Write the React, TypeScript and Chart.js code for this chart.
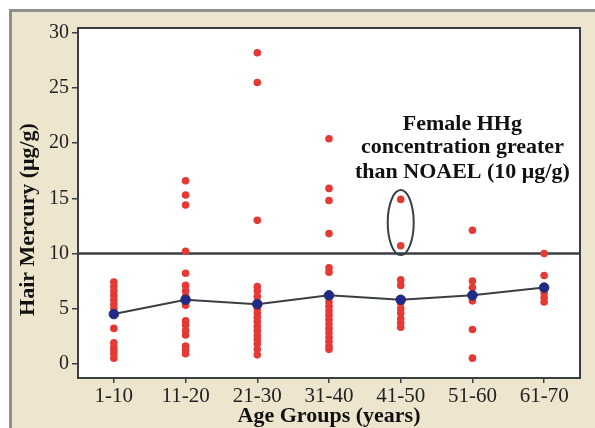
import React, { useEffect, useRef } from "react";
import { Chart, registerables } from "chart.js";

Chart.register(...registerables);

const categories = ["1-10", "11-20", "21-30", "31-40", "41-50", "51-60", "61-70"];

const group1to10 = [7.4, 7.0, 6.6, 6.2, 5.8, 5.4, 5.0, 3.2, 1.9, 1.5, 1.2, 0.9, 0.5];
const group11to20 = [16.6, 15.3, 14.4, 10.2, 8.2, 7.1, 6.6, 6.1, 5.6, 5.3, 3.9, 3.5, 3.0, 2.6, 1.6, 1.2, 0.9];
const group21to30 = [28.2, 25.5, 13.0, 7.0, 6.6, 6.1, 5.6, 5.0, 4.6, 4.2, 3.8, 3.4, 3.0, 2.6, 2.2, 1.8, 1.3, 0.8];
const group31to40 = [20.4, 15.9, 14.8, 11.8, 8.7, 8.3, 6.0, 5.6, 5.2, 4.8, 4.4, 4.0, 3.6, 3.2, 2.8, 2.4, 2.0, 1.6, 1.3];
const group41to50 = [14.9, 10.7, 7.6, 7.1, 5.5, 5.0, 4.6, 4.1, 3.7, 3.3];
const group51to60 = [12.1, 7.5, 6.9, 5.7, 3.1, 0.5];
const group61to70 = [10.0, 8.0, 6.4, 6.0, 5.6];

const groupMeans = [4.5, 5.8, 5.4, 6.2, 5.8, 6.2, 6.9];

const yTickValues = [0, 5, 10, 15, 20, 25, 30];
const noaelLimit = 10;

const annotationLines = ["Female HHg", "concentration greater", "than NOAEL (10 \u03bcg/g)"];
const annotationYValues = [21.7, 19.6, 17.4];
// ellipse around the 41-50 group's points above the NOAEL
const ellipseCategory = 4;
const ellipseYRange = [9.85, 15.75];

const xTitle = "Age Groups (years)";
const yTitle = "Hair Mercury (\u03bcg/g)";

const SERIF = "'Liberation Serif', 'Times New Roman', serif";

const allGroups = [group1to10, group11to20, group21to30, group31to40, group41to50, group51to60, group61to70];

const overlayPlugin = {
  id: "overlay",
  beforeDraw(chart: any) {
    const { ctx, chartArea } = chart;
    ctx.save();
    ctx.fillStyle = "#ffffff";
    ctx.fillRect(chartArea.left, chartArea.top, chartArea.right - chartArea.left, chartArea.bottom - chartArea.top);
    ctx.restore();
  },
  beforeDatasetsDraw(chart: any) {
    const { ctx, chartArea, scales } = chart;
    const y = scales.y.getPixelForValue(noaelLimit);
    ctx.save();
    ctx.strokeStyle = "#3a3f44";
    ctx.lineWidth = 2.5;
    ctx.beginPath();
    ctx.moveTo(chartArea.left, y);
    ctx.lineTo(chartArea.right, y);
    ctx.stroke();
    ctx.restore();
  },
  afterDatasetsDraw(chart: any) {
    const { ctx, chartArea, scales } = chart;
    const xs = scales.x;
    const ys = scales.y;
    ctx.save();
    // ellipse
    const cx = xs.getPixelForValue(ellipseCategory);
    const yTop = ys.getPixelForValue(ellipseYRange[1]);
    const yBot = ys.getPixelForValue(ellipseYRange[0]);
    ctx.strokeStyle = "#3a3f44";
    ctx.lineWidth = 2;
    ctx.beginPath();
    ctx.ellipse(cx, (yTop + yBot) / 2, 13, (yBot - yTop) / 2, 0, 0, Math.PI * 2);
    ctx.stroke();
    // annotation text
    const x4 = xs.getPixelForValue(4);
    const x5 = xs.getPixelForValue(5);
    const tx = x4 + 0.86 * (x5 - x4);
    ctx.fillStyle = "#111111";
    ctx.font = `bold 22px ${SERIF}`;
    ctx.textAlign = "center";
    ctx.textBaseline = "middle";
    annotationLines.forEach((line, i) => {
      ctx.fillText(line, tx, ys.getPixelForValue(annotationYValues[i]));
    });
    // plot frame
    ctx.strokeStyle = "#3a3f44";
    ctx.lineWidth = 2;
    ctx.strokeRect(chartArea.left, chartArea.top, chartArea.right - chartArea.left, chartArea.bottom - chartArea.top);
    ctx.restore();
  },
};

export default function App() {
  const canvasRef = useRef<HTMLCanvasElement | null>(null);

  useEffect(() => {
    const canvas = canvasRef.current;
    if (!canvas) return;
    const pointData: { x: string; y: number }[] = [];
    allGroups.forEach((g, i) => {
      g.forEach((v) => pointData.push({ x: categories[i], y: v }));
    });

    const chart = new Chart(canvas, {
      type: "line",
      data: {
        labels: categories,
        datasets: [
          {
            label: "Mean",
            data: groupMeans,
            borderColor: "#3a3f44",
            borderWidth: 2,
            backgroundColor: "#1f2a8a",
            pointBackgroundColor: "#1f2a8a",
            pointBorderColor: "#2a2f6a",
            pointBorderWidth: 1,
            pointRadius: 4.8,
            tension: 0,
            order: 0,
          },
          {
            label: "Individual",
            data: pointData as any,
            showLine: false,
            borderColor: "#e23a36",
            backgroundColor: "#e23a36",
            pointBackgroundColor: "#e53935",
            pointBorderColor: "#e53935",
            pointBorderWidth: 0,
            pointRadius: 3.8,
            order: 1,
          },
        ],
      },
      options: {
        animation: false,
        responsive: false,
        devicePixelRatio: 1,
        layout: { padding: { left: 0, top: 28, right: 15, bottom: 0 } },
        plugins: {
          legend: { display: false },
          tooltip: { enabled: false },
        },
        scales: {
          x: {
            type: "category",
            offset: true,
            grid: {
              offset: false,
              drawOnChartArea: false,
              drawTicks: true,
              tickLength: 5,
              color: "#3a3f44",
              lineWidth: 1.5,
            },
            border: { display: true, color: "#3a3f44", width: 2 },
            ticks: {
              color: "#222222",
              font: { family: SERIF, size: 21 },
              padding: 1,
              maxRotation: 0,
              minRotation: 0,
              autoSkip: false,
            },
            title: {
              display: true,
              text: xTitle,
              color: "#111111",
              font: { family: SERIF, size: 22, weight: "bold", lineHeight: 1.05 },
              padding: { top: 0, bottom: 0 },
            },
            afterFit(scale: any) {
              scale.height = 50;
            },
          },
          y: {
            type: "linear",
            min: -1.3,
            max: 30.45,
            grid: {
              drawOnChartArea: false,
              drawTicks: true,
              tickLength: 6,
              color: "#3a3f44",
              lineWidth: 1.5,
            },
            border: { display: true, color: "#3a3f44", width: 2 },
            ticks: {
              color: "#222222",
              font: { family: SERIF, size: 20 },
              padding: 3,
            },
            afterBuildTicks(scale: any) {
              scale.ticks = yTickValues.map((v) => ({ value: v }));
            },
            title: {
              display: true,
              text: yTitle + "      ",
              color: "#111111",
              font: { family: SERIF, size: 22, weight: "bold", lineHeight: 1.2 },
              padding: { top: 15, bottom: 0 },
            },
            afterFit(scale: any) {
              scale.width = 78;
            },
          },
        },
      },
      plugins: [overlayPlugin],
    });
    return () => chart.destroy();
  }, []);

  return (
    <div style={{ position: "fixed", left: 0, top: 0, width: 595, height: 428, background: "#ffffff", overflow: "hidden" }}>
      <div
        style={{
          position: "absolute",
          left: 9,
          top: 9,
          right: -10,
          bottom: -10,
          background: "#eee5cf",
          borderLeft: "3px solid #8f8f8c",
          borderTop: "3px solid #8f8f8c",
        }}
      />
      <canvas ref={canvasRef} width={595} height={428} style={{ position: "absolute", left: 0, top: 0, display: "block" }} />
    </div>
  );
}
